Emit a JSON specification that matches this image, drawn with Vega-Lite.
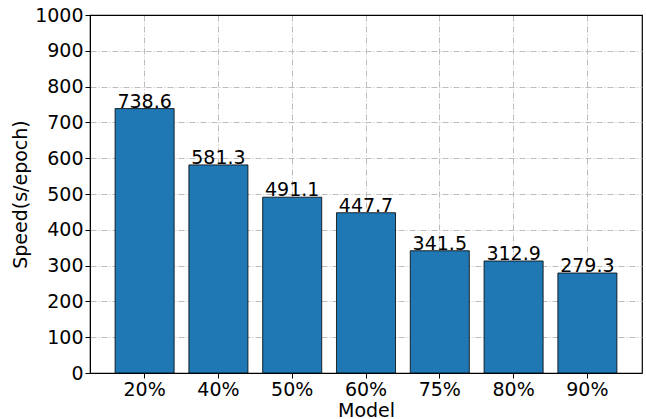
{
  "$schema": "https://vega.github.io/schema/vega-lite/v6.json",
  "width": 552,
  "height": 358,
  "autosize": "none",
  "padding": {"left": 90, "top": 15, "right": 4, "bottom": 46},
  "background": "white",
  "config": {
    "font": "DejaVu Sans",
    "view": {"stroke": "black", "strokeWidth": 1.2},
    "axis": {
      "labelFont": "DejaVu Sans",
      "titleFont": "DejaVu Sans",
      "labelFontSize": 19,
      "titleFontSize": 19,
      "titleFontWeight": "normal",
      "labelColor": "black",
      "titleColor": "black",
      "tickColor": "black",
      "domainColor": "black",
      "tickSize": 5,
      "labelPadding": 2,
      "grid": true,
      "gridWidth": 1,
      "zindex": 1
    }
  },
  "data": {
    "values": [
      {"model": "20%", "speed": 738.6},
      {"model": "40%", "speed": 581.3},
      {"model": "50%", "speed": 491.1},
      {"model": "60%", "speed": 447.7},
      {"model": "75%", "speed": 341.5},
      {"model": "80%", "speed": 312.9},
      {"model": "90%", "speed": 279.3}
    ]
  },
  "encoding": {
    "x": {
      "field": "model",
      "type": "nominal",
      "sort": null,
      "title": "Model",
      "scale": {"paddingInner": 0.2, "paddingOuter": 0.34},
      "axis": {"labelAngle": 0, "titlePadding": 2, "bandPosition": 0.5, "gridColor": "#bdbdbd", "gridDash": [6, 2, 1, 2]}
    },
    "y": {
      "field": "speed",
      "type": "quantitative",
      "title": "Speed(s/epoch)",
      "scale": {"domain": [0, 1000], "nice": false},
      "axis": {
        "values": [0,100,200,300,400,500,600,700,800,900,1000],
        "format": "d",
        "titlePadding": 4,
        "gridColor": {"condition": {"test": "datum.value === 1000", "value": "black"}, "value": "#bdbdbd"},
        "gridDash": {"condition": {"test": "datum.value === 1000", "value": []}, "value": [6, 2, 1, 2]}
      }
    }
  },
  "layer": [
    {
      "mark": {"type": "bar", "color": "#1f77b4", "stroke": "black", "strokeWidth": 1, "strokeOpacity": 0.8}
    },
    {
      "mark": {"type": "text", "baseline": "alphabetic", "dy": -1, "fontSize": 19, "color": "black"},
      "encoding": {"text": {"field": "speed", "type": "quantitative", "format": ".1f"}}
    }
  ]
}
